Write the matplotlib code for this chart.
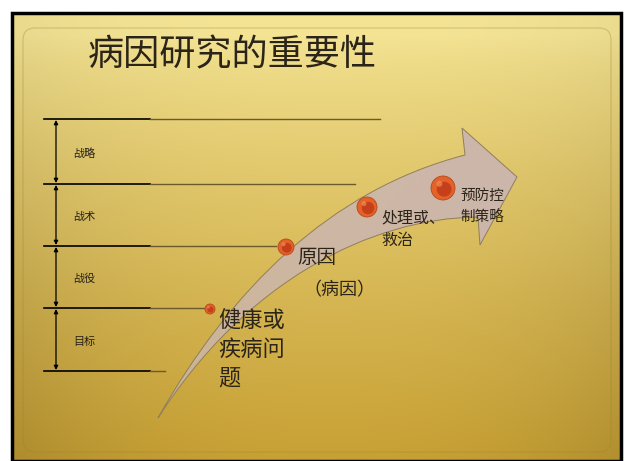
#!/usr/bin/env python
# coding: utf-8

# slide: 病因研究的重要性 (curved arrow diagram)
import numpy as np
import matplotlib
matplotlib.use('Agg')
import matplotlib.pyplot as plt
from matplotlib.path import Path
from matplotlib.patches import PathPatch, Circle, FancyBboxPatch

plt.rcParams['font.family'] = ['Noto Sans CJK SC', 'DejaVu Sans']

W, H = 626, 461

# data
title = '病因研究的重要性'
level_y = [119, 184, 246, 308, 371]           # horizontal guide lines
level_ext = [380, 355, 276, 205, 165]         # where each grey line ends
level_labels = ['战略', '战术', '战役', '目标']
step_xy = [(210, 309), (286, 247), (367, 207), (443, 188)]
step_r = [5, 8, 10, 12]
step_texts = [['健康或', '疾病问', '题'], ['原因', '', '（病因）'], ['处理或、', '救治'], ['预防控', '制策略']]

fig = plt.figure(figsize=(W / 100, H / 100), dpi=100)
ax = fig.add_axes([0, 0, 1, 1])
ax.set_xlim(0, W)
ax.set_ylim(H, 0)
ax.axis('off')

# golden background
x0, x1, y0, y1 = 12, 621, 13, 461
yy, xx = np.mgrid[0:1:200j, 0:1:300j]
top = np.array([244, 228, 148]) / 255
bot = np.array([198, 158, 48]) / 255
f = np.clip(yy - 0.05, 0, 1)[..., None] ** 0.8
img = top * (1 - f) + bot * f
edge = np.clip(np.abs(xx - 0.52) * 2, 0, 1) ** 2.5
img = img * (1 - 0.08 * edge[..., None] * (0.5 + yy[..., None]))
ax.imshow(np.clip(img, 0, 1), extent=[x0, x1, y1, y0], aspect='auto', zorder=0)
ax.add_patch(plt.Rectangle((x0, y0), x1 - x0, y1 - y0, fill=False, ec='black', lw=2.5, zorder=1))
ax.add_patch(FancyBboxPatch((23, 28), 588, 424, boxstyle='round,pad=0,rounding_size=12',
                            fill=False, ec='#a08030', lw=0.8, alpha=0.35, zorder=1))

ax.text(88, 55, title, fontsize=26, color='#2b2418', va='center', ha='left', zorder=5)

# guide lines + double arrows
for i, y in enumerate(level_y):
    ax.plot([44, 150], [y, y], color='black', lw=1.2, zorder=3)
    ax.plot([150, level_ext[i]], [y, y], color='#6b5a30', lw=1.0, zorder=3)
for i, lab in enumerate(level_labels):
    ya, yb = level_y[i], level_y[i + 1]
    ax.annotate('', xy=(56, yb - 1), xytext=(56, ya + 1),
                arrowprops=dict(arrowstyle='<|-|>', color='black', lw=0.9,
                                mutation_scale=6, shrinkA=0, shrinkB=0), zorder=3)
    ax.text(73, (ya + yb) / 2 + 2, lab, fontsize=8, color='#2b2418', va='center', ha='left', zorder=5)

# big curved arrow
verts = [(158, 418), (230, 290), (330, 190), (465, 155),
         (462, 128), (517, 177), (480, 245), (478, 217),
         (370, 218), (245, 282), (158, 418), (158, 418)]
codes = [Path.MOVETO, Path.CURVE4, Path.CURVE4, Path.CURVE4,
         Path.LINETO, Path.LINETO, Path.LINETO, Path.LINETO,
         Path.CURVE4, Path.CURVE4, Path.CURVE4, Path.CLOSEPOLY]
arrow = PathPatch(Path(verts, codes), fc='none', ec='#8f7f5a', lw=0.7, zorder=4)
ax.add_patch(arrow)
gx = np.linspace(0, 1, 300)[None, :]
shade = np.array([204, 182, 172]) / 255 * np.ones((2, 300, 3))
alpha = 0.8 + 0.2 * gx * np.ones((2, 1))
grad = np.dstack([shade, alpha])
im = ax.imshow(grad, extent=[150, 520, 420, 125], aspect='auto', zorder=3.5)
im.set_clip_path(arrow)

# orange dots
for (cx, cy), r in zip(step_xy, step_r):
    ax.add_patch(Circle((cx, cy), r, fc='#e3622a', ec='#b8471a', lw=0.6, zorder=6))
    ax.add_patch(Circle((cx + r * 0.1, cy + r * 0.1), r * 0.62, fc='#c5401a', ec='none', zorder=6))
    ax.add_patch(Circle((cx - r * 0.3, cy - r * 0.35), r * 0.25, fc='#f08a55', ec='none', alpha=0.7, zorder=6))

# step texts
t = step_texts
for k, s in enumerate(t[0]):
    ax.text(218, 320 + 29 * k, s, fontsize=16, color='#2b2418', va='center', ha='left', zorder=7)
ax.text(297, 257, t[1][0], fontsize=14, color='#2b2418', va='center', ha='left', zorder=7)
ax.text(303, 290, t[1][2], fontsize=13, color='#2b2418', va='center', ha='left', zorder=7)
ax.text(381, 218, t[2][0], fontsize=11.5, color='#2b2418', va='center', ha='left', zorder=7)
ax.text(381, 240, t[2][1], fontsize=11.5, color='#2b2418', va='center', ha='left', zorder=7)
ax.text(460, 196, t[3][0], fontsize=10.5, color='#2b2418', va='center', ha='left', zorder=7)
ax.text(460, 217, t[3][1], fontsize=10.5, color='#2b2418', va='center', ha='left', zorder=7)

fig.savefig('out.png', dpi=100, facecolor='white')
